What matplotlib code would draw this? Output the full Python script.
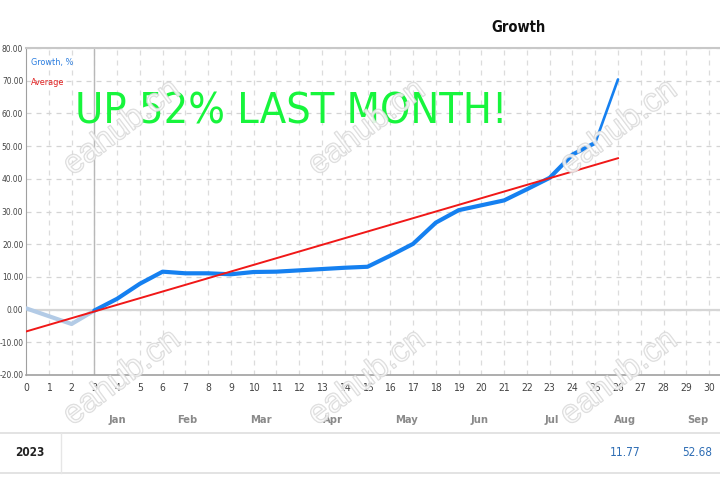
import matplotlib
matplotlib.use("Agg")
import matplotlib.pyplot as plt
from matplotlib.lines import Line2D
import matplotlib.patheffects as pe
import matplotlib.transforms as mtransforms
from matplotlib import font_manager as fm

# ---- data ----
pre_x = [0, 1, 2, 3]
pre_growth = [0.4, -2.0, -4.4, -0.3]
growth_x = [3, 4, 5, 6, 7, 8, 9, 10, 11, 12, 13, 14, 15, 16, 17, 18, 19, 20,
            21, 22, 23, 24, 25]
growth = [-0.3, 3.3, 7.9, 11.6, 11.1, 11.1, 10.8, 11.5, 11.6, 12.0, 12.4, 12.8,
          13.1, 16.5, 20.1, 26.6, 30.4, 31.9, 33.4, 36.8, 40.3, 47.4, 51.0]
last_x = [25, 26]
last_growth = [51.0, 70.4]
avg_x = [0, 26]
avg_vals = [-6.7, 46.3]
x_ticks = list(range(0, 31))
y_ticks = [-20, -10, 0, 10, 20, 30, 40, 50, 60, 70, 80]
months = ['Jan', 'Feb', 'Mar', 'Apr', 'May', 'Jun', 'Jul', 'Aug', 'Sep']
month_pos = [4.0, 7.1, 10.3, 13.5, 16.7, 19.9, 23.1, 26.3, 29.5]
year_label = '2023'
month_values = {'Aug': '11.77', 'Sep': '52.68'}
headline = 'UP 52% LAST MONTH!'


# ---- pick a condensed font if one is installed ----
def pick_font(bold=False):
    want_w = 700 if bold else 400
    best = None
    for f in fm.fontManager.ttflist:
        st = str(f.stretch).lower()
        nm = f.name.lower()
        narrow = ('narrow' in nm or 'condensed' in nm or 'condensed' in st)
        if not narrow or f.style != 'normal':
            continue
        w = f.weight if isinstance(f.weight, int) else (700 if 'bold' in str(f.weight) else 400)
        score = abs(w - want_w)
        if 'extra' in st or 'ultra' in st:
            score += 50
        if best is None or score < best[0]:
            best = (score, f.fname)
    return best[1] if best else None


reg_path = pick_font(False)
bold_path = pick_font(True)
HAVE_NARROW = reg_path is not None
if HAVE_NARROW:
    FP = fm.FontProperties(fname=reg_path)
    FPB = fm.FontProperties(fname=bold_path or reg_path)
else:
    FP = fm.FontProperties(family='Liberation Sans')
    FPB = fm.FontProperties(family='Liberation Sans', weight='bold')


def fp(base, size):
    p = base.copy()
    p.set_size(size)
    return p


fig = plt.figure(figsize=(7.2, 4.8), dpi=100)
fig.patch.set_facecolor('white')
ax = fig.add_axes([26/720, 105/480, (720-26)/720, 327/480])
ax.set_xlim(0, 30.48)
ax.set_ylim(-20, 80)

# grid
for x in x_ticks[1:]:
    ax.axvline(x, color='#dcdcdc', lw=0.9, ls=(0, (4, 4)), zorder=0)
for y in y_ticks[1:]:
    ax.axhline(y, color='#d4d4d4', lw=0.9, ls=(0, (4, 4)), zorder=0)
ax.axhline(0, color='#d6d6d6', lw=1.6, zorder=1)
ax.axvline(3, color='#b8b8b8', lw=1.0, zorder=1)

# lines
ax.plot(pre_x, pre_growth, color='#b3cbe6', lw=3.0, solid_capstyle='round', zorder=3)
ax.plot(growth_x, growth, color='#1580f0', lw=3.0, solid_joinstyle='round',
        solid_capstyle='round', zorder=4)
ax.plot(last_x, last_growth, color='#1580f0', lw=1.9, solid_capstyle='round', zorder=4)
ax.plot(avg_x, avg_vals, color='#f01818', lw=1.4, zorder=5)

# spines
ax.spines['right'].set_visible(False)
ax.spines['top'].set_color('#c8c8c8')
ax.spines['top'].set_linewidth(1.5)
ax.spines['left'].set_color('#a0a0a0')
ax.spines['bottom'].set_color('#a0a0a0')
ax.spines['bottom'].set_linewidth(1.2)

ax.set_xticks(x_ticks)
ax.set_xticklabels([str(t) for t in x_ticks])
ax.set_yticks(y_ticks)
ax.set_yticklabels([f'{t:.2f}' for t in y_ticks])
ax.tick_params(axis='both', length=0, colors='#444444')
ax.tick_params(axis='x', pad=6)
ax.tick_params(axis='y', pad=2)
for lab in ax.get_xticklabels():
    lab.set_fontproperties(fp(FP, 7.5 if HAVE_NARROW else 6.5))
for lab in ax.get_yticklabels():
    lab.set_fontproperties(fp(FP, 6.0 if HAVE_NARROW else 5.2))

# legend texts
ax.text(0.007, 0.955, 'Growth, %', transform=ax.transAxes, color='#2a7de0',
        fontproperties=fp(FP, 6.5 if HAVE_NARROW else 5.8), va='center')
ax.text(0.007, 0.896, 'Average', transform=ax.transAxes, color='#e02020',
        fontproperties=fp(FP, 6.5 if HAVE_NARROW else 5.8), va='center')

# big headline, sized so its width matches the reference (75..505 px)
big = fig.text(75/720, 1 - 112/480, headline, color='#17f53c',
               fontproperties=fp(FP, 40), va='center', ha='left', zorder=6)
fig.canvas.draw()
w = big.get_window_extent().width
big.set_fontsize(40 * 432 / w)

# month labels
trans = mtransforms.blended_transform_factory(ax.transData, fig.transFigure)
for m, p in zip(months, month_pos):
    ax.text(p, 1 - 420/480, m, transform=trans, ha='center', va='center',
            color='#8a8a8a', fontproperties=fp(FPB, 8 if HAVE_NARROW else 7))
    if m in month_values:
        ax.text(p, 1 - 453/480, month_values[m], transform=trans, ha='center',
                va='center', color='#2e6db4', fontproperties=fp(FP, 8.5 if HAVE_NARROW else 7.5))

# table lines
fig.add_artist(Line2D([0, 1], [1 - 433/480, 1 - 433/480], color='#dedede', lw=1.2,
                      transform=fig.transFigure))
fig.add_artist(Line2D([0, 1], [1 - 473/480, 1 - 473/480], color='#dedede', lw=1.2,
                      transform=fig.transFigure))
fig.add_artist(Line2D([61/720, 61/720], [1 - 473/480, 1 - 433/480], color='#e6e6e6',
                      lw=1.0, transform=fig.transFigure))
fig.text(30/720, 1 - 453/480, year_label, ha='center', va='center',
         fontproperties=fp(FPB, 8.5 if HAVE_NARROW else 7.5), color='#222222')

# title
fig.text(518/720, 1 - 27/480, 'Growth', ha='center', va='center',
         fontproperties=fp(FPB, 10.5 if HAVE_NARROW else 9.5), color='#111111')

# watermarks
for cx in (122, 367, 619):
    for cy in (128, 378):
        fig.text(cx/720, 1 - cy/480, 'eahub.cn', rotation=37, ha='center', va='center',
                 fontsize=24, color='white', alpha=0.3, family='Liberation Sans',
                 path_effects=[pe.withStroke(linewidth=1.0, foreground='#d2d2d2', alpha=0.8)],
                 zorder=10)

fig.savefig('out.png', dpi=100)
